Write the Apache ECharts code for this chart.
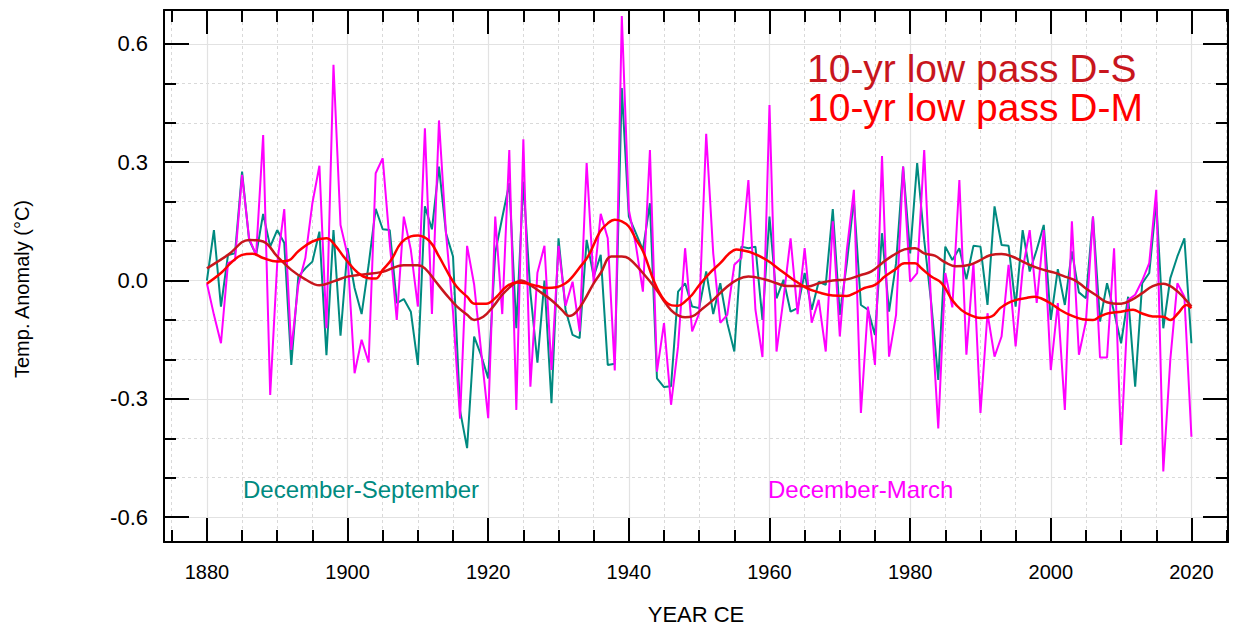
<!DOCTYPE html>
<html>
<head>
<meta charset="utf-8">
<script src="https://cdn.jsdelivr.net/npm/echarts@6/dist/echarts.min.js"></script>
<style>
html,body{margin:0;padding:0;background:#fff;}
#chart{width:1239px;height:632px;}
</style>
</head>
<body>
<div id="chart"></div>
<script>
// ---------------- DATA ----------------
const startYear = 1880;

// December-September anomalies (teal), 1880..2020
const dsValues = [
  0.000, 0.128, -0.066, 0.065, 0.069, 0.276, 0.103, 0.065, 0.169, 0.086,
  0.128, 0.095, -0.214, 0.010, 0.031, 0.048, 0.124, -0.189, 0.128, -0.140,
  0.082, -0.019, -0.085, 0.040, 0.182, 0.130, 0.128, -0.057, -0.047, -0.079,
  -0.214, 0.188, 0.130, 0.289, 0.120, 0.061, -0.330, -0.425, -0.142, -0.190,
  -0.248, 0.070, 0.160, 0.247, -0.121, 0.251, -0.030, -0.208, 0.000, -0.311,
  0.107, -0.074, -0.138, -0.146, 0.103, 0.010, 0.065, -0.214, -0.211, 0.488,
  0.162, 0.120, 0.078, 0.196, -0.248, -0.270, -0.268, -0.028, -0.007, -0.066,
  -0.070, 0.023, -0.085, -0.007, -0.108, -0.180, 0.086, 0.082, 0.086, -0.100,
  0.162, -0.045, 0.002, -0.079, -0.070, 0.019, -0.074, -0.003, -0.011, 0.181,
  -0.087, 0.044, 0.205, -0.062, -0.074, -0.138, 0.120, -0.079, 0.044, 0.289,
  0.069, 0.298, 0.103, -0.057, -0.252, 0.086, 0.052, 0.082, 0.003, 0.088,
  0.086, -0.062, 0.188, 0.090, 0.088, -0.066, 0.128, 0.023, 0.078, 0.141,
  -0.100, 0.029, -0.062, 0.074, -0.030, -0.045, 0.162, -0.104, -0.007, -0.080,
  -0.159, -0.041, -0.269, -0.007, 0.019, 0.200, -0.121, 0.006, 0.061, 0.107,
  -0.159
];

// December-March anomalies (magenta), 1880..2020
const dmValues = [
  -0.007, -0.087, -0.159, 0.044, 0.052, 0.268, 0.107, 0.065, 0.369, -0.290,
  0.044, 0.181, -0.176, -0.011, 0.057, 0.196, 0.291, -0.121, 0.547, 0.141,
  0.065, -0.235, -0.150, -0.208, 0.272, 0.310, 0.095, -0.100, 0.162, 0.078,
  -0.066, 0.386, -0.085, 0.406, 0.120, -0.080, -0.350, 0.088, -0.010, -0.180,
  -0.349, 0.162, -0.085, 0.331, -0.328, 0.358, -0.269, 0.020, 0.088, -0.227,
  0.088, -0.064, -0.003, -0.129, 0.298, -0.007, 0.169, 0.107, -0.228, 0.671,
  0.179, 0.090, -0.028, 0.331, -0.231, -0.108, -0.315, -0.167, 0.082, -0.129,
  -0.083, 0.372, 0.069, -0.107, -0.087, 0.040, 0.057, 0.255, -0.074, -0.194,
  0.445, -0.180, -0.045, 0.107, -0.085, 0.082, -0.107, -0.049, -0.180, 0.150,
  -0.142, 0.078, 0.230, -0.336, -0.066, -0.214, 0.316, -0.193, -0.087, 0.289,
  -0.003, 0.019, 0.331, -0.070, -0.375, 0.019, -0.068, 0.255, -0.188, 0.044,
  -0.336, -0.083, -0.193, -0.142, 0.040, -0.167, 0.027, 0.128, -0.057, 0.128,
  -0.227, -0.057, -0.328, 0.150, -0.188, -0.104, 0.162, -0.195, -0.195, 0.082,
  -0.417, -0.049, -0.036, 0.000, 0.044, 0.230, -0.484, -0.200, -0.007, -0.041,
  -0.396
];

// 10-yr low pass D-S (dark red), [year, value]
const lpDS = [
  [1880, 0.031], [1883, 0.065], [1886, 0.103], [1888, 0.099], [1890, 0.061],
  [1892, 0.027], [1894, 0.003], [1896, -0.012], [1898, -0.002], [1900, 0.010],
  [1902, 0.015], [1905, 0.022], [1908, 0.039], [1910, 0.039], [1911, 0.031],
  [1912.5, -0.002], [1914, -0.035], [1915.5, -0.065], [1917, -0.087], [1918, -0.100],
  [1919.3, -0.092], [1920.7, -0.066], [1922, -0.036], [1923.5, -0.011], [1924.7, 0.000],
  [1926, -0.012], [1927.5, -0.030], [1929, -0.050], [1930.5, -0.075], [1931.5, -0.090],
  [1932.5, -0.080], [1933.7, -0.049], [1935, -0.007], [1936, 0.019], [1937.5, 0.061],
  [1939, 0.061], [1940, 0.056], [1942, 0.019], [1944, -0.025], [1945.2, -0.057],
  [1946.5, -0.083], [1948, -0.093], [1949, -0.091], [1950.3, -0.074], [1952, -0.049],
  [1954, -0.015], [1955.5, 0.003], [1957, 0.010], [1959.5, 0.002], [1961, -0.007],
  [1962.5, -0.014], [1964, -0.014], [1965.5, -0.015], [1967, -0.007], [1969, 0.000],
  [1971, 0.003], [1973, 0.014], [1974.5, 0.023], [1976, 0.044], [1977.5, 0.063],
  [1979.2, 0.079], [1980.7, 0.082], [1982, 0.069], [1983.5, 0.063], [1985, 0.046],
  [1986.5, 0.036], [1988.5, 0.040], [1990, 0.052], [1991.5, 0.065], [1993, 0.067],
  [1994.5, 0.061], [1996, 0.048], [1997.5, 0.036], [1999, 0.027], [2000.5, 0.020],
  [2002, 0.010], [2003.5, 0.000], [2005, -0.020], [2006.5, -0.038], [2008, -0.055],
  [2010, -0.059], [2011.5, -0.049], [2013, -0.032], [2014.5, -0.014], [2016, -0.008],
  [2017.5, -0.020], [2019, -0.045], [2020, -0.066]
];

// 10-yr low pass D-M (red), [year, value]
const lpDM = [
  [1880, -0.008], [1882, 0.019], [1883.5, 0.046], [1885, 0.065], [1886.5, 0.068],
  [1888, 0.057], [1890, 0.048], [1891.5, 0.050], [1893, 0.074], [1895, 0.099],
  [1897, 0.107], [1898.2, 0.090], [1899.6, 0.057], [1901.5, 0.019], [1903, 0.006],
  [1904, 0.005], [1905, 0.027], [1906.2, 0.052], [1907.6, 0.095], [1909, 0.112],
  [1910, 0.114], [1911.7, 0.099], [1913, 0.061], [1914.3, 0.019], [1915.5, -0.015],
  [1917, -0.041], [1918.1, -0.059], [1919.7, -0.059], [1921.2, -0.041], [1922.6, -0.015],
  [1924, -0.005], [1925.4, -0.007], [1927, -0.014], [1928.3, -0.019], [1929.7, -0.017],
  [1931, -0.007], [1932, 0.010], [1933, 0.033], [1934.2, 0.061], [1935.9, 0.124],
  [1937, 0.145], [1938, 0.154], [1939, 0.150], [1940, 0.137], [1941, 0.105],
  [1942, 0.075], [1943.7, -0.007], [1945, -0.049], [1946.1, -0.063], [1947, -0.064],
  [1948, -0.053], [1949, -0.036], [1950, -0.012], [1951.5, 0.019], [1953, 0.044],
  [1954.3, 0.069], [1955.3, 0.079], [1956.3, 0.076], [1957.7, 0.069], [1959.6, 0.052],
  [1961.5, 0.027], [1963.4, 0.002], [1965.3, -0.019], [1967, -0.030], [1969, -0.038],
  [1971, -0.039], [1972.1, -0.032], [1973.5, -0.019], [1975, -0.011], [1976.4, 0.010],
  [1977.8, 0.027], [1979.2, 0.044], [1980.7, 0.044], [1981.6, 0.031], [1983, 0.010],
  [1984.5, -0.007], [1986, -0.050], [1987.3, -0.075], [1988.5, -0.087], [1990, -0.095],
  [1991.6, -0.091], [1992.8, -0.070], [1993.9, -0.057], [1995.1, -0.049], [1996.3, -0.045],
  [1997.7, -0.041], [1998.6, -0.045], [1999.9, -0.057], [2001.3, -0.074], [2002.7, -0.087],
  [2004.5, -0.098], [2006, -0.100], [2007, -0.091], [2008.2, -0.083], [2010, -0.079],
  [2011.7, -0.074], [2012.9, -0.083], [2014.5, -0.091], [2016, -0.092], [2017, -0.100],
  [2018.1, -0.083], [2019.3, -0.062], [2020, -0.070]
];

const xMajorTicks = [1880, 1900, 1920, 1940, 1960, 1980, 2000, 2020];
const xMinorTicks = [1875, 1885, 1890, 1895, 1905, 1910, 1915, 1925, 1930, 1935,
  1945, 1950, 1955, 1965, 1970, 1975, 1985, 1990, 1995, 2005, 2010, 2015, 2025];
const yMajorTicks = [-0.6, -0.3, 0, 0.3, 0.6];
const yMinorTicks = [-0.5, -0.4, -0.2, -0.1, 0.1, 0.2, 0.4, 0.5];

const titleDS = '10-yr low pass D-S';
const titleDM = '10-yr low pass D-M';
const labelDS = 'December-September';
const labelDM = 'December-March';
const yTitle = 'Temp. Anomaly (°C)';
const xTitle = 'YEAR CE';

// ---------------- STYLE ----------------
const FONT = '"Liberation Sans", Arial, Helvetica, sans-serif';
const C_TEAL = '#008a80';
const C_MAG = '#ff00ff';
const C_DRED = '#c8161d';
const C_RED = '#ff0000';
const X_MIN = 1873.9, X_MAX = 2025.2;
const Y_MIN = -0.663, Y_MAX = 0.686;

const dsData = dsValues.map((v, i) => [startYear + i, v]);
const dmData = dmValues.map((v, i) => [startYear + i, v]);

const blackLine = { color: '#000', width: 2 };
function xAx(pos, ticks, len, opts) {
  return Object.assign({
    type: 'value', min: X_MIN, max: X_MAX, position: pos,
    axisLine: { show: false, onZero: false, lineStyle: blackLine },
    axisTick: { show: true, inside: true, length: len, customValues: ticks, lineStyle: blackLine },
    axisLabel: { show: false },
    splitLine: { show: false }
  }, opts || {});
}
function yAx(pos, ticks, len, opts) {
  return Object.assign({
    type: 'value', min: Y_MIN, max: Y_MAX, position: pos,
    axisLine: { show: false, onZero: false, lineStyle: blackLine },
    axisTick: { show: true, inside: true, length: len, customValues: ticks, lineStyle: blackLine },
    axisLabel: { show: false },
    splitLine: { show: false }
  }, opts || {});
}

const chart = echarts.init(document.getElementById('chart'), null, { renderer: 'svg' });
chart.setOption({
  animation: false,
  backgroundColor: '#fff',
  grid: { left: 164, right: 11, top: 10, bottom: 90, containLabel: false },
  xAxis: [
    xAx('bottom', xMinorTicks, 12, {
      splitLine: { show: true, lineStyle: { color: '#d9d9d9', width: 1, type: [3, 3] } }
    }),
    xAx('bottom', xMajorTicks, 24, {
      axisLine: { show: true, onZero: false, lineStyle: blackLine },
      axisLabel: { show: true, customValues: xMajorTicks, margin: 20, fontSize: 20, color: '#000', fontFamily: FONT,
        formatter: v => String(Math.round(v)) },
      splitLine: { show: true, lineStyle: { color: '#e2e2e2', width: 1.2 } }
    }),
    xAx('top', xMinorTicks, 12),
    xAx('top', xMajorTicks, 24, { axisLine: { show: true, onZero: false, lineStyle: blackLine } })
  ],
  yAxis: [
    yAx('left', yMinorTicks, 12, {
      splitLine: { show: true, lineStyle: { color: '#d9d9d9', width: 1, type: [3, 3] } }
    }),
    yAx('left', yMajorTicks, 25, {
      axisLine: { show: true, onZero: false, lineStyle: blackLine },
      axisLabel: { show: true, customValues: yMajorTicks, margin: 16, fontSize: 22, color: '#000', fontFamily: FONT,
        formatter: v => Number(v).toFixed(1) },
      splitLine: { show: true, lineStyle: { color: '#e2e2e2', width: 1.2 } }
    }),
    yAx('right', yMinorTicks, 12),
    yAx('right', yMajorTicks, 25, { axisLine: { show: true, onZero: false, lineStyle: blackLine } })
  ],
  series: [
    { name: labelDS, type: 'line', xAxisIndex: 1, yAxisIndex: 1, data: dsData, symbol: 'none',
      lineStyle: { color: C_TEAL, width: 2 }, z: 3 },
    { name: labelDM, type: 'line', xAxisIndex: 1, yAxisIndex: 1, data: dmData, symbol: 'none',
      lineStyle: { color: C_MAG, width: 2 }, z: 4 },
    { name: titleDS, type: 'line', xAxisIndex: 1, yAxisIndex: 1, data: lpDS, symbol: 'none', smooth: 0.4,
      lineStyle: { color: C_DRED, width: 2.5 }, z: 5 },
    { name: titleDM, type: 'line', xAxisIndex: 1, yAxisIndex: 1, data: lpDM, symbol: 'none', smooth: 0.4,
      lineStyle: { color: C_RED, width: 2.5 }, z: 6 }
  ],
  graphic: [
    { type: 'text', x: 807, y: 68.5, z: 10, style: { text: titleDS, fontSize: 39, fontFamily: FONT, fill: C_DRED,
      align: 'left', verticalAlign: 'middle', textAlign: 'left', textVerticalAlign: 'middle' } },
    { type: 'text', x: 807, y: 107.5, z: 10, style: { text: titleDM, fontSize: 39, fontFamily: FONT, fill: C_RED,
      align: 'left', verticalAlign: 'middle', textAlign: 'left', textVerticalAlign: 'middle' } },
    { type: 'text', x: 243, y: 489, z: 10, style: { text: labelDS, fontSize: 24, fontFamily: FONT, fill: C_TEAL,
      align: 'left', verticalAlign: 'middle', textAlign: 'left', textVerticalAlign: 'middle' } },
    { type: 'text', x: 768, y: 489, z: 10, style: { text: labelDM, fontSize: 24, fontFamily: FONT, fill: C_MAG,
      align: 'left', verticalAlign: 'middle', textAlign: 'left', textVerticalAlign: 'middle' } },
    { type: 'text', x: 22, y: 289, rotation: Math.PI / 2, z: 10, style: { text: yTitle, fontSize: 20, fontFamily: FONT, fill: '#000',
      align: 'center', verticalAlign: 'middle', textAlign: 'center', textVerticalAlign: 'middle' } },
    { type: 'text', x: 696, y: 614, z: 10, style: { text: xTitle, fontSize: 22, fontFamily: FONT, fill: '#000',
      align: 'center', verticalAlign: 'middle', textAlign: 'center', textVerticalAlign: 'middle' } }
  ]
});
</script>
</body>
</html>
